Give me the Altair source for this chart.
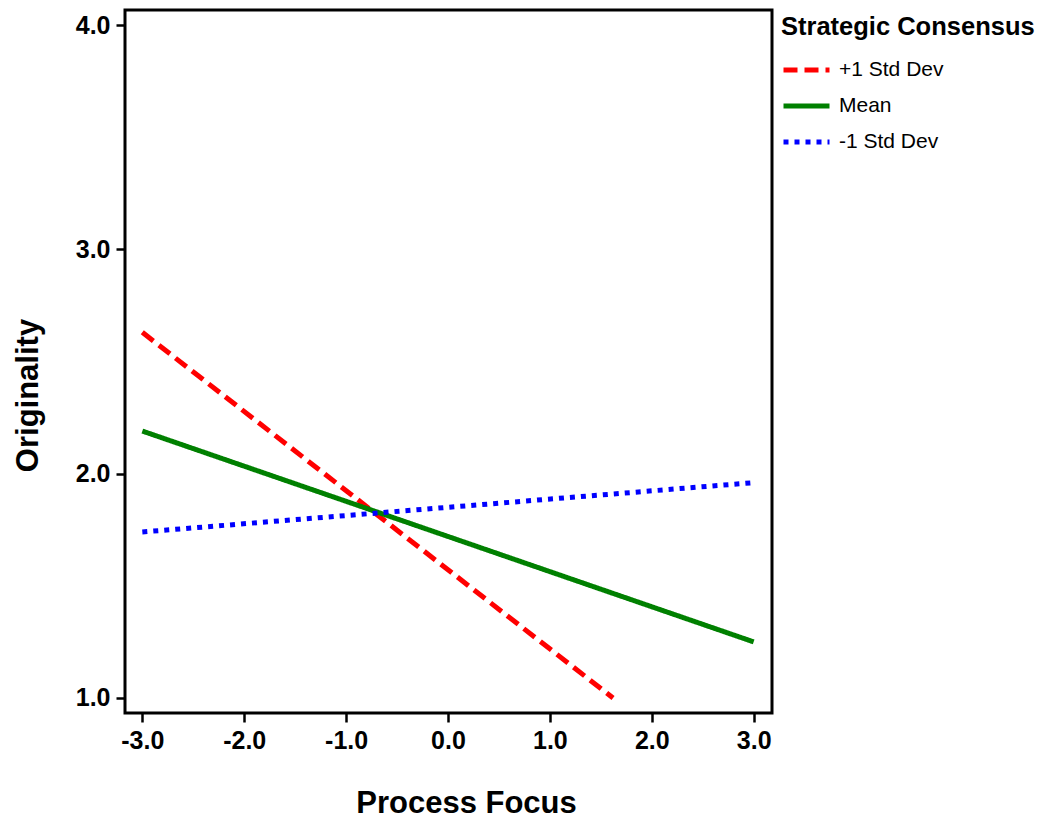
import altair as alt
import pandas as pd

series = ["+1 Std Dev", "Mean", "-1 Std Dev"]
colors = ["#ff0000", "#008000", "#0000ff"]
dashes = [[14, 7], [1, 0], [5, 6]]

hi_x = [-3.0, 1.62]
hi_y = [2.63, 1.0]
mean_x = [-3.0, 3.0]
mean_y = [2.19, 1.25]
lo_x = [-3.0, 3.0]
lo_y = [1.74, 1.96]

x_ticks = [-3, -2, -1, 0, 1, 2, 3]
y_ticks = [1, 2, 3, 4]

rows = []
for name, xs, ys in [(series[0], hi_x, hi_y), (series[1], mean_x, mean_y), (series[2], lo_x, lo_y)]:
    for i, (a, b) in enumerate(zip(xs, ys)):
        rows.append({"series": name, "x": a, "y": b, "order": i})
df = pd.DataFrame(rows)

font = "Liberation Sans"

chart = alt.Chart(df).mark_line(strokeWidth=5, strokeCap="butt").encode(
    x=alt.X("x:Q",
            scale=alt.Scale(domain=[-3.17, 3.18], nice=False, zero=False),
            axis=alt.Axis(values=x_ticks, format=".1f", title="Process Focus",
                          labelExpr="replace(datum.label, '\u2212', '-')",
                          titleX=341, titleY=90, titleBaseline="middle", titleAlign="center")),
    y=alt.Y("y:Q",
            scale=alt.Scale(domain=[0.933, 4.067], nice=False, zero=False),
            axis=alt.Axis(values=y_ticks, format=".1f", title="Originality",
                          titleX=-97, titleY=385, titleBaseline="middle", titleAlign="center",
                          titleAngle=270)),
    color=alt.Color("series:N", scale=alt.Scale(domain=series, range=colors),
                    legend=alt.Legend(title="Strategic Consensus", orient="none",
                                      legendX=656, legendY=5,
                                      symbolType="stroke", symbolSize=2116,
                                      symbolStrokeWidth=5, titleLimit=400, labelLimit=300)),
    strokeDash=alt.StrokeDash("series:N", scale=alt.Scale(domain=series, range=dashes),
                              legend=None),
    order="order:Q",
).properties(
    width=647, height=703,
    autosize=alt.AutoSizeParams(type="none"),
    padding={"left": 125, "top": 10, "right": 275, "bottom": 112},
).configure_view(
    stroke="black", strokeWidth=3
).configure_axis(
    grid=False, domain=False,
    tickColor="black", tickWidth=2.5, tickSize=9,
    labelFont=font, labelFontSize=25, labelFontWeight="bold", labelColor="black",
    labelPadding=6,
    titleFont=font, titleFontSize=31, titleFontWeight="bold", titleColor="black",
).configure_legend(
    titleFont=font, titleFontSize=25.5, titleFontWeight="bold", titleColor="black",
    labelFont=font, labelFontSize=21, labelColor="black",
    titlePadding=4, rowPadding=-8, labelOffset=7,
)

chart.save("out.html", embed_options={"renderer": "svg", "actions": False})
